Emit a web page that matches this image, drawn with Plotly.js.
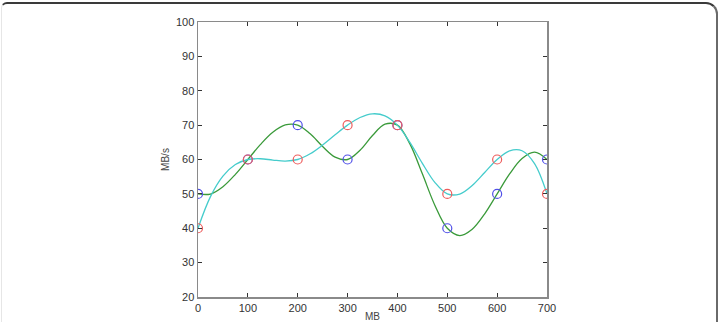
<!DOCTYPE html>
<html>
<head>
<meta charset="utf-8">
<script src="https://cdn.plot.ly/plotly-3.0.1.min.js"></script>
<style>
  html, body { margin: 0; padding: 0; background: #fff; }
  #wrap { position: relative; width: 719px; height: 322px; overflow: hidden; }
  #frame { position: absolute; left: 1px; top: 2px; width: 714px; height: 340px;
           border-top: 2px solid #3a3a3a; border-right: 2px solid #6a6a6a;
           border-left: 1px solid #e6e6e6;
           border-top-right-radius: 12px; border-top-left-radius: 6px; pointer-events: none; }
  #chart { position: absolute; left: 0; top: 0; width: 719px; height: 322px; }
</style>
</head>
<body>
<div id="wrap">
  <div id="chart"></div>
  <div id="frame"></div>
</div>
<script>
// Data
const sizesMB = [0, 100, 200, 300, 400, 500, 600, 700];
const seriesBlue = [50, 60, 70, 60, 70, 40, 50, 60];   // blue circles
const seriesRed  = [40, 60, 60, 70, 70, 50, 60, 50];   // red circles

const curveX = [0, 25, 50, 75, 100, 125, 150, 175, 200, 225, 250, 275, 300, 325, 350,
                375, 400, 425, 450, 475, 500, 525, 550, 575, 600, 625, 650, 675, 700];
const greenCurve = [50, 49.96, 52.09, 55.68, 60, 64.32, 67.91, 70.04, 70, 67.46, 63.78, 60.71,
                    60, 62.70, 66.97, 70.26, 70, 64.54, 55.83, 46.70, 40, 37.88, 39.73, 44.20,
                    50, 55.80, 60.28, 62.12, 60];
const cyanCurve = [40, 49.20, 55.16, 58.53, 60, 60.22, 59.84, 59.55, 60, 61.66, 64.22, 67.17,
                   70, 72.21, 73.29, 72.72, 70, 64.96, 58.88, 53.35, 50, 49.96, 52.46, 56.22,
                   60, 62.53, 62.54, 58.79, 50];

const xTicks = [0, 100, 200, 300, 400, 500, 600, 700];
const yTicks = [20, 30, 40, 50, 60, 70, 80, 90, 100];

const traces = [
  { x: curveX, y: greenCurve, mode: 'lines', type: 'scatter',
    line: { shape: 'spline', smoothing: 1, color: '#3a9a3a', width: 1.3 }, hoverinfo: 'skip' },
  { x: curveX, y: cyanCurve, mode: 'lines', type: 'scatter',
    line: { shape: 'spline', smoothing: 1, color: '#45cccc', width: 1.3 }, hoverinfo: 'skip' },
  { x: sizesMB, y: seriesBlue, mode: 'markers', type: 'scatter',
    marker: { symbol: 'circle-open', size: 9, color: '#5050e8', line: { width: 1.2, color: '#5050e8' } } },
  { x: sizesMB, y: seriesRed, mode: 'markers', type: 'scatter',
    marker: { symbol: 'circle-open', size: 9, color: '#ee5c5c', line: { width: 1.2, color: '#ee5c5c' } } }
];

const axisCommon = {
  showgrid: false, zeroline: false, showline: true, mirror: 'ticks',
  linecolor: '#8a8a8a', linewidth: 1.5,
  ticks: 'inside', ticklen: 4, tickcolor: '#333', tickwidth: 1,
  tickfont: { family: 'Liberation Sans, Arial, sans-serif', size: 11, color: '#333' }
};

const layout = {
  width: 719, height: 322,
  margin: { l: 198, r: 172, t: 22, b: 25 },
  paper_bgcolor: '#fff', plot_bgcolor: '#fff',
  showlegend: false,
  xaxis: Object.assign({}, axisCommon, {
    range: [0, 700], tickvals: xTicks, ticktext: xTicks.map(String),
    title: { text: 'MB', standoff: 8, font: { family: 'Liberation Sans, Arial, sans-serif', size: 10, color: '#444' } },
    ticklabelstandoff: 0
  }),
  yaxis: Object.assign({}, axisCommon, {
    range: [20, 100], tickvals: yTicks, ticktext: yTicks.map(String),
    title: { text: 'MB/s', standoff: 4, font: { family: 'Liberation Sans, Arial, sans-serif', size: 10, color: '#444' } },
    ticklabelstandoff: 0
  })
};

Plotly.newPlot('chart', traces, layout, { staticPlot: true, displayModeBar: false });
</script>
</body>
</html>
